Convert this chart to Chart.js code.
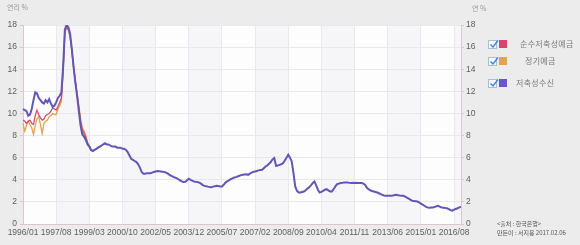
<!DOCTYPE html>
<html><head><meta charset="utf-8">
<script src="https://cdn.jsdelivr.net/npm/chart.js@4/dist/chart.umd.min.js"></script>
<style>
html,body{margin:0;padding:0;background:#ececec;width:580px;height:245px;overflow:hidden;font-family:"Noto Sans CJK KR","Liberation Sans",sans-serif;}
#wrap{position:relative;width:580px;height:245px;}
canvas{position:absolute;left:0;top:0;}
.t{position:absolute;white-space:nowrap;line-height:1;}
.ytitle{font-size:7px;color:#9a9a9a;}
.cb{position:absolute;width:7px;height:7px;border:1px solid #a9bfd6;background:#f6f9fc;}
.cb svg{position:absolute;left:0;top:-2px;}
.sq{position:absolute;width:8px;height:8px;}
.lg{font-size:8px;color:#7a7a7a;letter-spacing:0.3px;}
.src{font-size:6px;color:#555;}
</style></head>
<body><div id="wrap">
<canvas id="c" width="580" height="245"></canvas>
<div class="t ytitle" style="left:7px;top:4px;">연리 %</div>
<div class="t ytitle" style="left:472px;top:5px;">연 %</div>
<div id="legend"></div>
<div class="t src" style="left:497px;top:221px;">&lt;출처 : 한국은행&gt;</div>
<div class="t src" style="left:497px;top:230px;">만든이 : 서지용 2017.02.06</div>
</div>
<script>
// Categories: monthly, 1996/01 .. 2016/12
const startYear = 1996, endYear = 2016;
const months = [];
for (let y = startYear; y <= endYear; y++) for (let m = 1; m <= 12; m++) months.push(y + '/' + String(m).padStart(2, '0'));

const tickLabels = ['1996/01','1997/08','1999/03','2000/10','2002/05','2003/12','2005/07','2007/02','2008/09','2010/04','2011/11','2013/06','2015/01','2016/08'];
const yTicks = [0,2,4,6,8,10,12,14,16,18];

const seriesNames = ['순수저축성예금','정기예금','저축성수신'];

// 순수저축성예금 (visible separately only in the early period)
const pureSavings = [9.4,9.3,9.1,9.3,9.4,9.1,9.0,9.8,10.3,9.9,9.6,9.4,9.5,9.8,9.9,10.0,10.2,10.5,10.4,10.3,10.6,11.0,11.4,14.0,17.4,17.8,17.6,17.0,15.7,14.2,12.9,11.7,10.5,9.3,8.5,8.2,7.8,7.3,7.0,6.7,6.6,6.7,6.8,6.9,7.0];
// 정기예금
const timeDeposit = [9.1,8.4,8.9,9.3,9.0,8.7,8.1,8.9,9.5,9.7,9.0,8.2,9.1,9.3,9.4,9.7,9.8,10.0,9.9,9.9,10.4,10.7,11.1,13.8,17.3,17.8,17.5,16.9,15.6,14.1,12.9,11.8,10.7,9.5,8.7,8.4,8.0,7.4,7.1,6.8,6.6,6.7,6.8,6.9,7.0];
// 저축성수신
const savingsTotal = [
10.4,10.3,10.2,9.8,9.9,10.4,11.2,11.9,11.8,11.4,11.2,11.0,
10.9,11.2,11.0,11.3,10.9,10.6,10.7,11.0,11.4,11.6,11.9,14.2,
17.6,18.0,17.8,17.2,15.8,14.2,12.8,11.6,10.2,8.9,8.1,7.9,
7.6,7.2,7.0,6.7,6.6,6.7,6.8,6.9,7.0,7.1,7.2,7.3,
7.2,7.2,7.1,7.0,7.0,7.0,6.9,6.9,6.9,6.8,6.8,6.7,
6.5,6.2,5.9,5.8,5.7,5.6,5.4,5.1,4.7,4.55,4.55,4.6,
4.6,4.6,4.65,4.7,4.75,4.8,4.78,4.75,4.72,4.7,4.65,4.55,
4.45,4.35,4.28,4.2,4.15,4.05,3.95,3.85,3.8,3.82,3.95,4.1,
4.0,3.92,3.85,3.82,3.8,3.75,3.65,3.52,3.45,3.42,3.38,3.35,
3.33,3.38,3.42,3.45,3.43,3.4,3.4,3.55,3.75,3.85,3.95,4.05,
4.12,4.2,4.24,4.3,4.36,4.42,4.45,4.48,4.5,4.45,4.55,4.65,
4.72,4.75,4.8,4.85,4.88,4.9,5.05,5.2,5.3,5.45,5.6,5.85,
5.97,5.27,5.3,5.35,5.4,5.5,5.75,6.0,6.27,6.0,5.66,4.6,
3.4,3.0,2.85,2.85,2.9,2.94,3.05,3.2,3.33,3.5,3.7,3.85,
3.5,3.1,2.85,2.9,3.0,3.1,3.15,3.05,2.95,2.95,3.15,3.4,
3.6,3.65,3.7,3.72,3.75,3.76,3.75,3.72,3.7,3.72,3.7,3.72,
3.7,3.7,3.7,3.65,3.55,3.3,3.15,3.05,2.98,2.94,2.9,2.85,
2.78,2.7,2.62,2.58,2.56,2.55,2.55,2.55,2.58,2.62,2.64,2.6,
2.57,2.55,2.55,2.48,2.38,2.3,2.2,2.1,2.08,2.06,2.03,1.95,
1.85,1.75,1.65,1.55,1.48,1.47,1.49,1.5,1.55,1.6,1.64,1.55,
1.5,1.48,1.44,1.42,1.35,1.25,1.21,1.3,1.36,1.42,1.5,1.55];

const seriesColors = ['#d24d70','#e1a352','#6157b6'];
const legendColors = ['#d6466e','#e2a352','#6655cc'];

// HTML legend (real text)
const legendRows = [{top:40, textLeft:520},{top:57, textLeft:525},{top:79, textLeft:516}];
const lg = document.getElementById('legend');
seriesNames.forEach((n,i)=>{
  const r = legendRows[i];
  lg.insertAdjacentHTML('beforeend',
    `<div class="cb" style="left:488px;top:${r.top}px;"><svg width="10" height="10" viewBox="0 0 10 10"><path d="M1.5 5.5 L4 8 L9 1.5" stroke="#3f86d4" stroke-width="1.4" fill="none"/></svg></div>`+
    `<div class="sq" style="left:499px;top:${r.top}px;background:${legendColors[i]};"></div>`+
    `<div class="t lg" style="left:${r.textLeft}px;top:${r.top}px;">${n}</div>`);
});

const tickIdx = tickLabels.map(l => months.indexOf(l));

const bandPlugin = {
  id: 'bands',
  beforeDraw(chart) {
    const {ctx, chartArea:a, scales:{x}} = chart;
    ctx.save();
    ctx.fillStyle = '#fdfdfe';
    ctx.fillRect(a.left, a.top, a.right - a.left, a.bottom - a.top);
    ctx.fillStyle = '#f6f5f8';
    for (let i = 0; i < tickIdx.length; i++) {
      if (i % 2 === 1) {
        const x0 = x.getPixelForValue(tickIdx[i]);
        const x1 = i + 1 < tickIdx.length ? x.getPixelForValue(tickIdx[i+1]) : a.right;
        ctx.fillRect(x0, a.top, x1 - x0, a.bottom - a.top);
      }
    }
    ctx.restore();
  }
};

const axisColor = '#d9c7cd';
const gridColor = '#ebe8ec';
const tickFont = {family: 'Liberation Sans', size: 8.5};
const tickColor = '#5e5e5e';

new Chart(document.getElementById('c'), {
  type: 'line',
  data: {
    labels: months,
    datasets: [
      {label: seriesNames[2], data: savingsTotal, borderColor: seriesColors[2], borderWidth: 2, order: 0},
      {label: seriesNames[0], data: pureSavings, borderColor: seriesColors[0], borderWidth: 1.3, order: 1},
      {label: seriesNames[1], data: timeDeposit, borderColor: seriesColors[1], borderWidth: 1.3, order: 2}
    ]
  },
  options: {
    responsive: false,
    animation: false,
    events: [],
    layout: {padding: {top: 25, left: 0, right: 0, bottom: 0}},
    elements: {point: {radius: 0}, line: {tension: 0, fill: false}},
    plugins: {legend: {display: false}, tooltip: {enabled: false}},
    scales: {
      x: {
        type: 'category',
        offset: false,
        afterFit: s => { s.height = 21; },
        border: {color: axisColor},
        grid: {
          drawTicks: false,
          color: ctx => (ctx.type === 'tick' && tickIdx.includes(ctx.index)) ? gridColor : 'rgba(0,0,0,0)'
        },
        ticks: {
          autoSkip: false, maxRotation: 0, minRotation: 0, padding: 4,
          color: tickColor, font: tickFont,
          callback: (v, i) => tickIdx.includes(i) ? months[i] : ''
        }
      },
      y: {
        position: 'left', min: 0, max: 18,
        afterFit: s => { s.width = 23; },
        afterBuildTicks: s => { s.ticks = yTicks.map(v => ({value: v})); },
        border: {color: axisColor},
        grid: {color: gridColor, tickLength: 3, tickColor: axisColor},
        ticks: {padding: 3, color: tickColor, font: tickFont}
      },
      y2: {
        position: 'right', min: 0, max: 18,
        afterFit: s => { s.width = 119; },
        afterBuildTicks: s => { s.ticks = yTicks.map(v => ({value: v})); },
        border: {color: axisColor},
        grid: {drawOnChartArea: false, tickLength: 3, tickColor: axisColor},
        ticks: {padding: 2, color: tickColor, font: tickFont}
      }
    }
  },
  plugins: [bandPlugin]
});
</script>
</body></html>
